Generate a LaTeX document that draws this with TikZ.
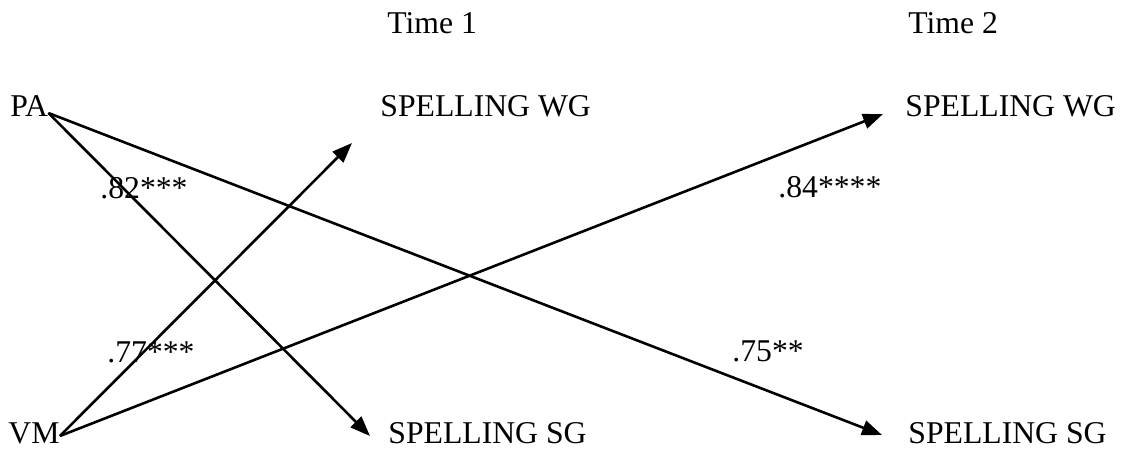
\documentclass[tikz,border=0pt]{standalone}
\usepackage{fontspec}
\setmainfont{Liberation Serif}
\usetikzlibrary{arrows.meta, positioning}

\begin{document}
\begin{tikzpicture}
  [
    x=0.5pt, y=-0.5pt,
    every node/.style={inner sep=0pt, anchor=base west, font=\fontsize{15.85}{19}\selectfont},
    path/.style={line width=1.3pt, -{Triangle[length=10pt,width=7.5pt]}}
  ]
  \useasboundingbox (0,0) rectangle (1125,450);
  % headings
  \node (time1) at (387,33) {Time 1};
  \node (time2) at (908,33) {Time 2};
  % predictors and outcomes
  \node (pa) at (10,116) {PA};
  \node (vm) at (8,443) {VM};
  \node (wg1) at (380,116) {SPELLING WG};
  \node (sg1) at (388,443) {SPELLING SG};
  \node (wg2) at (905,116) {SPELLING WG};
  \node (sg2) at (908,443) {SPELLING SG};
  % paths
  \draw[path] ([yshift=1.5pt]pa.base east) -- ([shift={(-9pt,3.5pt)}]sg1.base west);
  \draw[path] ([yshift=1.5pt]pa.base east) -- ([shift={(-13pt,4pt)}]sg2.base west);
  \draw[path] ([yshift=3.5pt]vm.base east) -- ([shift={(-14pt,-13.5pt)}]wg1.base west);
  \draw[path] ([yshift=3.5pt]vm.base east) -- ([shift={(-11pt,1pt)}]wg2.base west);
  % coefficients
  \node (c82) at (100,198) {.82***};
  \node (c77) at (107,362) {.77***};
  \node (c84) at (778,197) {.84****};
  \node (c75) at (732,361) {.75**};
\end{tikzpicture}
\end{document}
